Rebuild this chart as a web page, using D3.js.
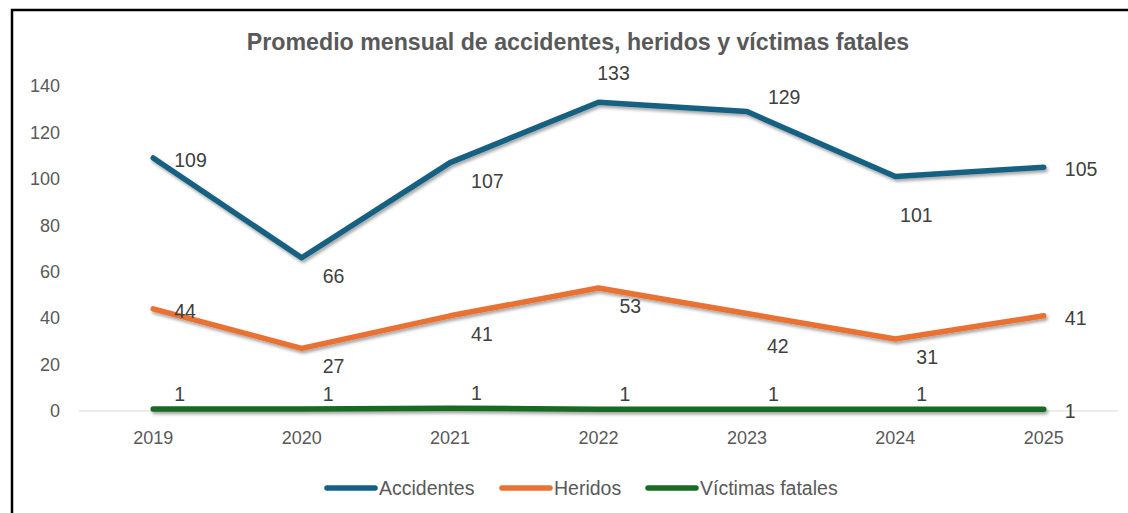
<!DOCTYPE html>
<html><head><meta charset="utf-8">
<script src="https://cdn.jsdelivr.net/npm/d3@7"></script>
<style>
html,body{margin:0;padding:0;background:#fff;}
svg{display:block;font-family:"Liberation Sans",Arial,sans-serif;}
</style></head>
<body>
<svg id="chart" width="1128" height="513"></svg>
<script>
const years = ["2019","2020","2021","2022","2023","2024","2025"];
const accidentes = [109, 66, 107, 133, 129, 101, 105];
const heridos = [44, 27, 41, 53, 42, 31, 41];
const victimas = [0.9, 0.9, 1.2, 0.8, 0.8, 0.8, 0.8];
const yTicks = [0, 20, 40, 60, 80, 100, 120, 140];
const seriesNames = ["Accidentes", "Heridos", "Víctimas fatales"];
const seriesColors = ["#156082", "#E97132", "#196B24"];
const accLabelPos = ["right", "belowRight", "belowRight", "above", "aboveRight", "below", "right"];
const herLabelPos = ["right", "belowRight", "belowRight", "belowRight", "farBelowRight", "belowRight", "right"];
const vicLabelPos = ["aboveRight", "aboveRight", "aboveRight", "aboveRight", "aboveRight", "aboveRight", "right"];
const title = "Promedio mensual de accidentes, heridos y víctimas fatales";

const svg = d3.select("#chart");
const W = 1128, H = 513;
const m = {left: 79, right: 10, top: 86, bottom: 102};

// frame
svg.append("rect").attr("x", 12).attr("y", 10).attr("width", 1300).attr("height", 700)
  .attr("fill", "none").attr("stroke", "#000").attr("stroke-width", 2.5);

const defs = svg.append("defs");
const f = defs.append("filter").attr("id", "shadow").attr("filterUnits", "userSpaceOnUse")
  .attr("x", 0).attr("y", 0).attr("width", W).attr("height", H);
f.append("feDropShadow").attr("dx", 1.5).attr("dy", 2.5).attr("stdDeviation", 1.6)
  .attr("flood-color", "#000").attr("flood-opacity", 0.35);

const x = d3.scaleBand().domain(years).range([m.left, W - m.right]);
const y = d3.scaleLinear().domain([0, 140]).range([411, 86]);
const cx = d => x(d) + x.bandwidth() / 2;

svg.append("text").attr("x", 578).attr("y", 42).attr("text-anchor", "middle")
  .attr("dominant-baseline", "central").attr("font-weight", "bold").attr("font-size", 23.2)
  .attr("fill", "#595959").text(title);

// y axis
const yAxis = d3.axisLeft(y).tickValues(yTicks).tickSize(0).tickPadding(0);
const ya = svg.append("g").attr("transform", `translate(60,0)`).call(yAxis);
ya.select(".domain").remove();
ya.selectAll("text").attr("font-size", 18).attr("fill", "#595959").attr("font-family", "Liberation Sans, Arial, sans-serif");

// baseline
svg.append("line").attr("x1", m.left).attr("x2", W - m.right).attr("y1", y(0)).attr("y2", y(0))
  .attr("stroke", "#d9d9d9").attr("stroke-width", 1.2);

// x axis
const xAxis = d3.axisBottom(x).tickSize(0).tickPadding(0);
const xa = svg.append("g").attr("transform", `translate(0,${y(0)})`).call(xAxis);
xa.select(".domain").remove();
xa.selectAll("text").attr("font-size", 18).attr("fill", "#595959").attr("dy", null)
  .attr("y", 27).attr("dominant-baseline", "central").attr("font-family", "Liberation Sans, Arial, sans-serif");

const offsets = {
  right: {dx: 21, dy: 2, anchor: "start"},
  belowRight: {dx: 21, dy: 18, anchor: "start"},
  farBelowRight: {dx: 20, dy: 32, anchor: "start"},
  above: {dx: 15, dy: -29, anchor: "middle"},
  aboveRight: {dx: 21, dy: -15, anchor: "start"},
  below: {dx: 21, dy: 38, anchor: "middle"}
};

const line = d3.line().x((d, i) => cx(years[i])).y(d => y(d));
const allSeries = [accidentes, heridos, victimas];
const allPos = [accLabelPos, herLabelPos, vicLabelPos];

allSeries.forEach((vals, si) => {
  svg.append("path").datum(vals).attr("d", line).attr("fill", "none")
    .attr("stroke", seriesColors[si]).attr("stroke-width", 5.5)
    .attr("stroke-linecap", "round").attr("stroke-linejoin", "round")
    .attr("filter", "url(#shadow)");
});
allSeries.forEach((vals, si) => {
  svg.append("g").selectAll("text").data(vals).join("text")
    .attr("x", (d, i) => cx(years[i]) + offsets[allPos[si][i]].dx)
    .attr("y", (d, i) => y(d) + offsets[allPos[si][i]].dy)
    .attr("text-anchor", (d, i) => offsets[allPos[si][i]].anchor)
    .attr("dominant-baseline", "central")
    .attr("font-size", 19.5).attr("fill", "#404040")
    .text(d => d3.format(".0f")(d));
});

// legend
const legendX = [325, 500, 646];
const lg = svg.append("g");
seriesNames.forEach((n, i) => {
  lg.append("line").attr("x1", legendX[i] + 2).attr("x2", legendX[i] + 50).attr("y1", 488).attr("y2", 488)
    .attr("stroke", seriesColors[i]).attr("stroke-width", 5.5).attr("stroke-linecap", "round");
  lg.append("text").attr("x", legendX[i] + 54).attr("y", 488).attr("dominant-baseline", "central")
    .attr("font-size", 19.5).attr("fill", "#595959").text(n);
});
</script>
</body></html>
